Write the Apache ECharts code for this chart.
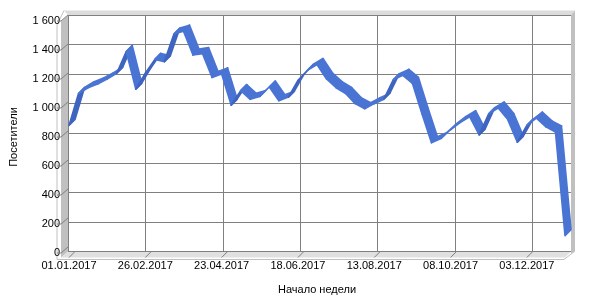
<!DOCTYPE html>
<html>
<head>
<meta charset="utf-8">
<script src="https://cdn.jsdelivr.net/npm/echarts@6/dist/echarts.min.js"></script>
<style>html,body{margin:0;padding:0;background:#fff}#c{width:600px;height:300px}</style>
</head>
<body>
<div id="c"></div>
<script>
// ---- data ----
const weeks = [
 '01.01.2017','08.01.2017','15.01.2017','22.01.2017','29.01.2017',
 '05.02.2017','12.02.2017','19.02.2017','26.02.2017',
 '05.03.2017','12.03.2017','19.03.2017','26.03.2017',
 '02.04.2017','09.04.2017','16.04.2017','23.04.2017','30.04.2017',
 '07.05.2017','14.05.2017','21.05.2017','28.05.2017',
 '04.06.2017','11.06.2017','18.06.2017','25.06.2017',
 '02.07.2017','09.07.2017','16.07.2017','23.07.2017','30.07.2017',
 '06.08.2017','13.08.2017','20.08.2017','27.08.2017',
 '03.09.2017','10.09.2017','17.09.2017','24.09.2017',
 '01.10.2017','08.10.2017','15.10.2017','22.10.2017','29.10.2017',
 '05.11.2017','12.11.2017','19.11.2017','26.11.2017',
 '03.12.2017','10.12.2017','17.12.2017','24.12.2017','31.12.2017'
];
const visitors = [
 880,1100,1140,1165,1200,1240,1390,1130,1240,1335,1320,1510,1530,1365,1375,1210,1235,1020,1120,1060,
 1080,1145,1050,1075,1190,1260,1300,1200,1140,1100,1030,995,1030,1060,1195,1225,1170,960,760,790,
 850,900,940,815,960,1000,920,765,880,930,870,835,120
];
const yTicks = [0,200,400,600,800,1000,1200,1400,1600];
const xLabelEvery = 8;

// ---- layout ----
const F = {l:62, r:565, t:21, b:257.5};   // front plane
const D = 6;                               // depth offset (px, up-right)
const FONT = 'Liberation Sans';

const chart = echarts.init(document.getElementById('c'), null, {renderer:'canvas'});
const fmt = v => String(v).replace(/\B(?=(\d{3})+(?!\d))/g, ' ');

const option = {
  animation:false,
  backgroundColor:'#fff',
  grid:[
    {left:F.l, top:F.t, width:F.r-F.l, height:F.b-F.t},
    {left:F.l+D, top:F.t-D, width:F.r-F.l, height:F.b-F.t}
  ],
  xAxis:[
    {type:'category', gridIndex:0, data:weeks, boundaryGap:false,
     axisLine:{show:false}, axisTick:{show:false}, splitLine:{show:false},
     axisLabel:{interval:xLabelEvery-1, color:'#000', fontFamily:FONT, fontSize:11, margin:7},
     name:'Начало недели', nameLocation:'middle', nameGap:31,
     nameTextStyle:{color:'#000', fontFamily:FONT, fontSize:11}},
    {type:'category', gridIndex:1, data:weeks, boundaryGap:false,
     axisLine:{show:false}, axisTick:{show:false}, axisLabel:{show:false},
     splitLine:{show:true, interval:xLabelEvery-1, lineStyle:{color:'#808080', width:1}}}
  ],
  yAxis:[
    {type:'value', gridIndex:0, min:0, max:1600, interval:200,
     axisLine:{show:false}, axisTick:{show:false}, splitLine:{show:false},
     axisLabel:{color:'#000', fontFamily:FONT, fontSize:11, margin:9, formatter:fmt},
     name:'Посетители', nameLocation:'middle', nameGap:50, nameRotate:90,
     nameTextStyle:{color:'#000', fontFamily:FONT, fontSize:11}},
    {type:'value', gridIndex:1, min:0, max:1600, interval:200,
     axisLine:{show:false}, axisTick:{show:false}, axisLabel:{show:false},
     splitLine:{show:true, lineStyle:{color:'#808080', width:1}}}
  ],
  series:[{
    type:'custom', xAxisIndex:0, yAxisIndex:0, clip:false, z:5,
    data: visitors.map((v,i)=>[i,v]),
    encode:{x:0, y:1},
    renderItem:function(params, api){
      const i = api.value(0);
      if (i >= visitors.length-1) return null;
      const p0 = api.coord([i, visitors[i]]);
      const p1 = api.coord([i+1, visitors[i+1]]);
      const dx = p1[0]-p0[0], dy = p1[1]-p0[1];
      const top = (dx+dy) > 0;
      const fill = top ? '#4a74d4' : '#3f64c0';
      return {
        type:'polygon',
        shape:{points:[p0, p1, [p1[0]+D, p1[1]-D], [p0[0]+D, p0[1]-D]]},
        style:{fill: fill, stroke: fill, lineWidth:1.6, lineJoin:'round'}
      };
    }
  }]
};
chart.setOption(option);

// ---- walls, floor and 3D ticks (decoration derived from layout + axes) ----
const g = [];
const T = 4; // wall thickness
g.push({type:'polygon', z:-1, shape:{points:[[F.l+D-T,F.t-D-T-0.5],[F.r+D+T,F.t-D-T-0.5],[F.r+D,F.t-D],[F.l+D,F.t-D]]}, style:{fill:'#dcdcdc'}});
g.push({type:'polygon', z:-1, shape:{points:[[F.r+D,F.t-D],[F.r+D+T,F.t-D-T-0.5],[F.r+D+T,F.b-D-0.5],[F.r+D,F.b-D+2.5]]}, style:{fill:'#c0c0c0'}});
g.push({type:'polygon', z:-1, shape:{points:[[F.l-1,F.t+0.5],[F.l+D,F.t-D],[F.l+D,F.b-D],[F.l-1,F.b]]}, style:{fill:'#c0c0c0'}});
g.push({type:'polygon', z:-1, shape:{points:[[F.l-1,F.b],[F.l+D,F.b-D],[F.r+D,F.b-D],[F.r,F.b]]}, style:{fill:'#e0e0e0'}});
g.push({type:'polyline', z:-1, shape:{points:[[F.l-T-1,F.b+2],[F.l-T-1,F.t+4],[F.l+D-T,F.t-D-T-0.5]]}, style:{stroke:'#c0c0c0', lineWidth:1, fill:null}});
g.push({type:'polyline', z:-1, shape:{points:[[F.l-T-1,F.b+2],[F.r-1,F.b+2],[F.r+D+T,F.b-D-0.5]]}, style:{stroke:'#c0c0c0', lineWidth:1, fill:null}});

yTicks.forEach(v=>{
  const y = chart.convertToPixel({yAxisIndex:0}, v);
  g.push({type:'polyline', z:1, shape:{points:[[F.l-T-1,y],[F.l-1,y],[F.l+D,y-D]]}, style:{stroke:'#808080', lineWidth:1, fill:null}});
});
weeks.forEach((w,i)=>{
  if (i % xLabelEvery) return;
  const x = chart.convertToPixel({xAxisIndex:0}, i);
  g.push({type:'line', z:1, shape:{x1:x, y1:F.b, x2:x+D, y2:F.b-D}, style:{stroke:'#808080', lineWidth:1}});
});
chart.setOption({graphic:g});
</script>
</body>
</html>
